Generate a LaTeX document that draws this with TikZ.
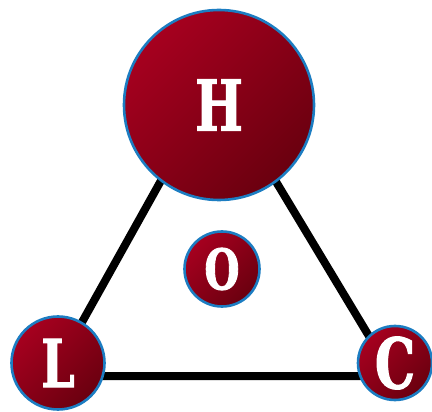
\documentclass[tikz,border=0pt]{standalone}
\usepackage{fontspec}
\usepackage{xcolor}
\usepackage{tikz}
\newfontfamily\slabfont{DejaVu Serif}[FakeStretch=0.72, FakeBold=1.5]
\definecolor{ballred}{HTML}{A6001F}
\definecolor{balldark}{HTML}{6A000F}
\definecolor{rimblue}{HTML}{1C7DC2}

\tikzset{
  ball/.style={circle, draw=rimblue, line width=2.6pt, inner sep=0pt,
    top color=ballred, bottom color=balldark, shading angle=45,
    text=white, font=\slabfont\bfseries},
  edge/.style={line width=8pt, black}
}

\begin{document}
\begin{tikzpicture}[x=1pt, y=-1pt]
    \useasboundingbox (0,0) rectangle (432,412);
    % corners of the triangle
    \coordinate (tH) at (216,82);
    \coordinate (tL) at (52,376);
    \coordinate (tC) at (393,376);
    \draw[edge] (tH) -- (tL) -- (tC) -- cycle;
    \node[ball, minimum size=190pt, font=\slabfont\bfseries\fontsize{70}{70}\selectfont] (H) at (219,105) {H};
    \node[ball, minimum size=93pt, font=\slabfont\bfseries\fontsize{66}{66}\selectfont] (L) at (58,363) {L};
    \node[ball, minimum size=74pt, font=\slabfont\bfseries\fontsize{70}{70}\selectfont] (C) at (395,363) {C};
    \node[ball, minimum size=75pt, font=\slabfont\bfseries\fontsize{56}{56}\selectfont] (O) at (222,269) {O};
  \end{tikzpicture}
\end{document}
